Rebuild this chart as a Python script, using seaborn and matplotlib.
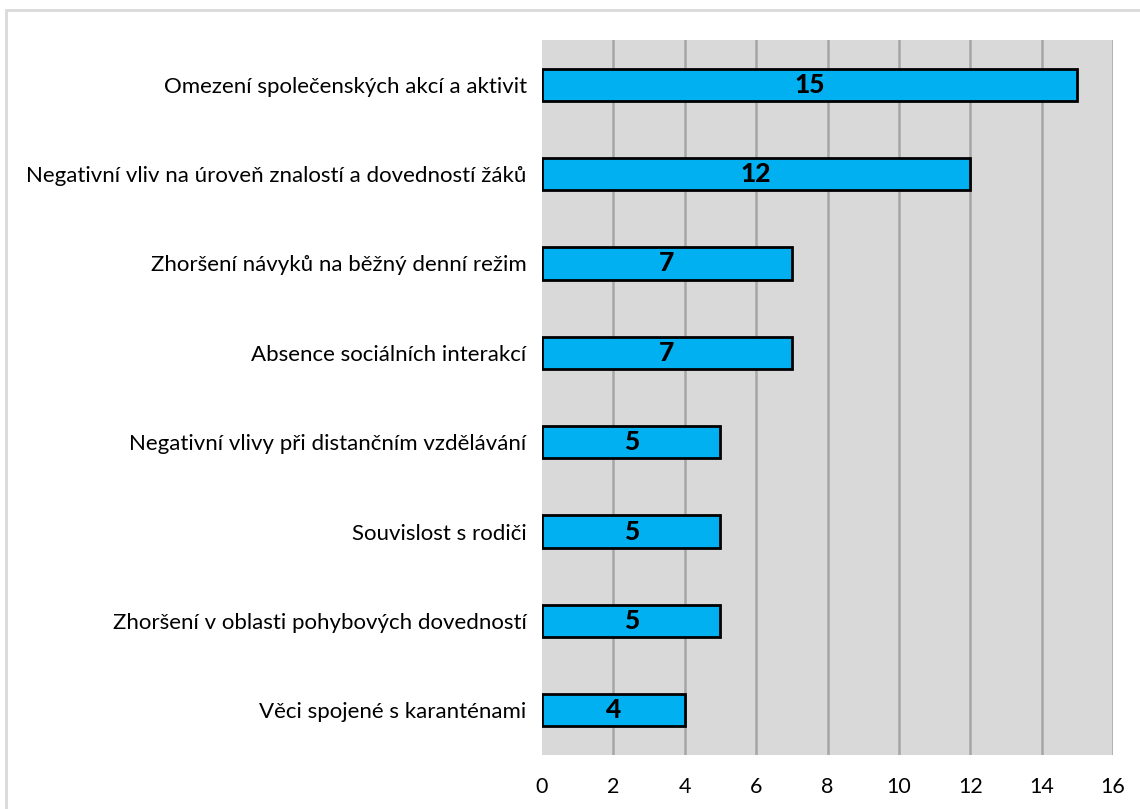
import matplotlib
matplotlib.use('Agg')
import matplotlib.pyplot as plt
import seaborn as sns
import pandas as pd
from matplotlib.patches import Rectangle

# data
categories = [
    'Omezení společenských akcí a aktivit',
    'Negativní vliv na úroveň znalostí a dovedností žáků',
    'Zhoršení návyků na běžný denní režim',
    'Absence sociálních interakcí',
    'Negativní vlivy při distančním vzdělávání',
    'Souvislost s rodiči',
    'Zhoršení v oblasti pohybových dovedností',
    'Věci spojené s karanténami',
]
counts = [15, 12, 7, 7, 5, 5, 5, 4]
xticks = [0, 2, 4, 6, 8, 10, 12, 14, 16]

df = pd.DataFrame({'kategorie': categories, 'pocet': counts})

sns.set_style('white')
plt.rcParams['font.family'] = ['Lato', 'DejaVu Sans']
plt.rcParams['text.color'] = 'black'
plt.rcParams['xtick.color'] = 'black'
plt.rcParams['ytick.color'] = 'black'

fig = plt.figure(figsize=(11.4, 8.09), dpi=100)
# outer chart border (Excel chart area)
fig.patches.append(Rectangle((6 / 1140, -0.1), 1.2, 1 - 10 / 809 + 0.1,
                             transform=fig.transFigure, fill=False,
                             edgecolor='#d9d9d9', linewidth=2))

ax = fig.add_axes([542 / 1140, 1 - 755 / 809, (1113 - 542) / 1140, (755 - 40) / 809])
ax.set_facecolor('#d9d9d9')

sns.barplot(data=df, x='pocet', y='kategorie', orient='h', color='#00b0f0',
            edgecolor='black', linewidth=2, width=0.36, saturation=1, ax=ax, zorder=3)

ax.set_xlim(0, 16)
ax.set_xticks(xticks)
ax.xaxis.grid(True, color='#a6a6a6', linewidth=1.8, zorder=0)
ax.set_axisbelow(True)
ax.get_xgridlines()[0].set_visible(False)
for s in ax.spines.values():
    s.set_visible(False)
ax.tick_params(axis='both', length=0)
ax.tick_params(axis='y', pad=11, labelsize=16)
ax.tick_params(axis='x', pad=16, labelsize=15.5)
ax.set_xlabel('')
ax.set_ylabel('')

for p, v in zip(ax.patches, counts):
    ax.text(p.get_x() + p.get_width() / 2, p.get_y() + p.get_height() / 2, str(v),
            ha='center', va='center', fontsize=19, fontweight='black', zorder=4)

fig.savefig('out.png', dpi=100)
